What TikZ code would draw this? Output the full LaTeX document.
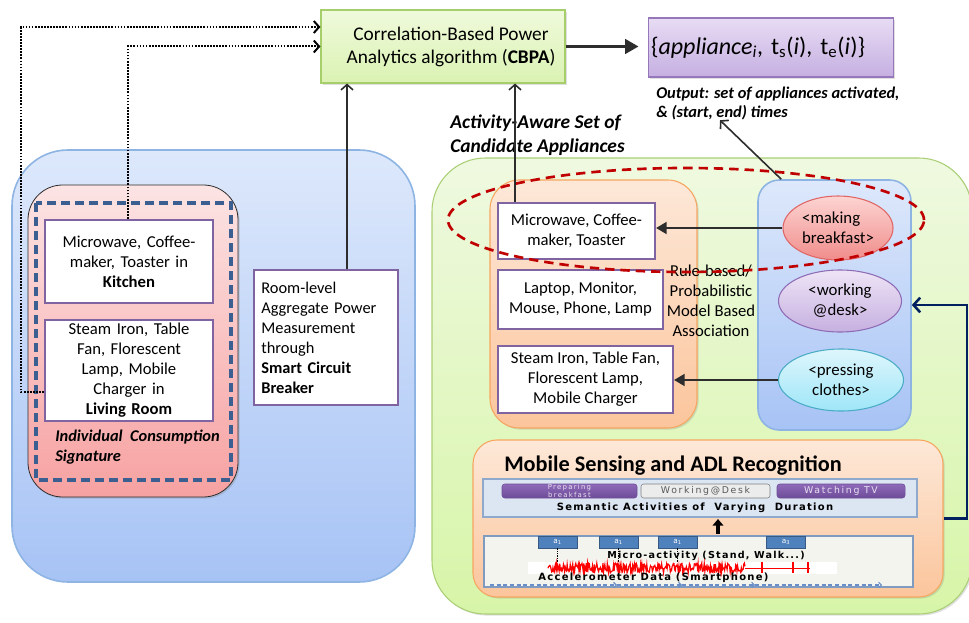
\documentclass[tikz,border=0pt]{standalone}
\usepackage{fontspec}
\setmainfont{Carlito}
\newfontfamily\tinysans[LetterSpace=13]{DejaVu Sans}
\newfontfamily\pillsans[LetterSpace=18]{DejaVu Sans}
\usepackage{tikz}
\usetikzlibrary{arrows.meta,shapes,shapes.geometric,positioning,shadows,calc}
\usepackage{xcolor}
\definecolor{darkline}{RGB}{45,45,45}
\definecolor{lbluetop}{RGB}{221,232,251}
\definecolor{lbluebot}{RGB}{167,195,245}
\definecolor{lblueline}{RGB}{142,180,227}
\definecolor{greentop}{RGB}{239,249,224}
\definecolor{greenbot}{RGB}{215,245,168}
\definecolor{greenline}{RGB}{170,207,118}
\definecolor{orangetop}{RGB}{253,232,216}
\definecolor{orangebot}{RGB}{251,197,156}
\definecolor{orangeline}{RGB}{246,166,96}
\definecolor{pinktop}{RGB}{252,228,228}
\definecolor{pinkbot}{RGB}{247,161,161}
\definecolor{dashblue}{RGB}{59,95,145}
\definecolor{apline}{RGB}{128,100,162}
\definecolor{cbpatop}{RGB}{240,250,220}
\definecolor{cbpabot}{RGB}{218,242,178}
\definecolor{cbpaline}{RGB}{166,206,107}
\definecolor{outtop}{RGB}{232,220,244}
\definecolor{outbot}{RGB}{197,175,225}
\definecolor{outline}{RGB}{150,119,188}
\definecolor{redtop}{RGB}{252,212,210}
\definecolor{redbot}{RGB}{240,141,139}
\definecolor{redline}{RGB}{224,102,102}
\definecolor{purptop}{RGB}{238,228,246}
\definecolor{purpbot}{RGB}{198,176,224}
\definecolor{purpline}{RGB}{142,108,181}
\definecolor{cyantop}{RGB}{222,246,252}
\definecolor{cyanbot}{RGB}{159,230,248}
\definecolor{cyanline}{RGB}{75,172,198}
\definecolor{ringred}{RGB}{192,0,0}
\definecolor{navy}{RGB}{0,32,96}
\definecolor{sempanel}{RGB}{220,230,242}
\definecolor{semline}{RGB}{142,169,204}
\definecolor{pilltop}{RGB}{142,106,184}
\definecolor{pillbot}{RGB}{110,76,152}
\definecolor{pilltext}{RGB}{232,224,242}
\definecolor{accpanel}{RGB}{244,244,239}
\definecolor{accline}{RGB}{127,156,192}
\definecolor{aboxfill}{RGB}{79,129,189}
\definecolor{timeline}{RGB}{106,143,200}
\tikzstyle{arrow} = [line width=1.2pt,-{Straight Barb[length=4pt,width=9pt]},color=darkline]
\tikzstyle{fillarrow} = [line width=1.5pt,-{Triangle[length=8pt,width=9pt]},color=darkline]
\tikzstyle{bigarrow} = [line width=1.7pt,-{Triangle[length=10pt,width=11pt]},color=darkline]
\tikzstyle{dotarrow} = [line width=1.5pt,dash pattern=on 1.3pt off 1pt,-{Straight Barb[length=4pt,width=9pt]},color=black]
\tikzstyle{navyarrow} = [line width=1.9pt,-{Straight Barb[length=5pt,width=11pt]},color=navy]
\tikzstyle{apbox} = [rectangle, draw=apline, line width=1.6pt, fill=white, align=center, inner sep=0pt, font=\fontsize{12.5}{15}\selectfont]
\tikzstyle{actoval} = [ellipse, inner sep=0pt, line width=0.8pt, align=center, font=\fontsize{12.6}{15}\selectfont]
\tikzstyle{boldital} = [align=left, inner sep=0pt, font=\bfseries\itshape\fontsize{12.3}{15}\selectfont]
\tikzstyle{pill} = [rectangle, rounded corners=2pt, inner sep=0pt, minimum height=10.5pt, align=center]
\tikzstyle{abox} = [rectangle, fill=aboxfill, draw=aboxfill!70!black, line width=0.4pt, minimum width=29pt, minimum height=9pt, inner sep=0pt, text=white, font=\tinysans\fontsize{5.5}{5.5}\selectfont]
\tikzstyle{tinytext} = [inner sep=0pt, font=\tinysans\bfseries\fontsize{7.5}{7.5}\selectfont]

\begin{document}
\begin{tikzpicture}[x=0.75pt,y=-0.75pt]
\useasboundingbox (0,0) rectangle (969,623);
% Left panel
\draw[draw=lblueline, line width=1.2pt, top color=lbluetop, bottom color=lbluebot, rounded corners=42pt] (12,150) rectangle (415,582);
\draw[draw=darkline, line width=0.6pt, top color=pinktop, bottom color=pinkbot, rounded corners=26pt, drop shadow={opacity=0.3,shadow xshift=1.2pt,shadow yshift=-1.2pt}] (28,185) rectangle (238,497);
\draw[draw=dashblue, line width=2.6pt, dash pattern=on 7pt off 3.5pt] (36,203) rectangle (231,480);
\node[apbox, minimum width=126pt, minimum height=62.25pt, text width=124pt] (kitchen) at (129,261.5) {Microwave, Coffee-\\maker, Toaster in\\\textbf{Kitchen}};
\node[apbox, minimum width=126pt, minimum height=75.75pt, text width=124pt] (living) at (129,370.5) {Steam Iron, Table\\Fan, Florescent\\Lamp, Mobile\\Charger in\\\textbf{Living Room}};
\node[boldital, anchor=west] (signature) at (55,447) {Individual\ \ Consumption\\Signature};
\node[apbox, minimum width=108pt, minimum height=101.25pt, text width=97pt, align=left, font=\fontsize{12.3}{15}\selectfont] (room) at (326,337.5) {Room-level\\Aggregate Power\\Measurement\\through\\\textbf{Smart Circuit}\\\textbf{Breaker}};
% CBPA and output
\node[rectangle, draw=cbpaline, line width=0.8pt, top color=cbpatop, bottom color=cbpabot, minimum width=183pt, minimum height=54.75pt, align=center, font=\fontsize{14.5}{17.25}\selectfont, drop shadow={opacity=0.25,shadow xshift=1.2pt,shadow yshift=-1.2pt}] (cbpa) at (443,46.5) {\hspace*{12pt}Correlation-Based Power\\\hspace*{12pt}Analytics algorithm (\textbf{CBPA})};
\node[rectangle, draw=outline, line width=0.8pt, top color=outtop, bottom color=outbot, minimum width=183pt, minimum height=44.25pt, text width=180pt, align=left, inner sep=2pt, font=\fontsize{18}{20}\selectfont, drop shadow={opacity=0.25,shadow xshift=1.2pt,shadow yshift=-1.2pt}] (output) at (771,47.5) {\{\textit{appliance}\textsubscript{\textit{i}}, t\textsubscript{s}(\textit{i}), t\textsubscript{e}(\textit{i})\}};
\node[boldital, anchor=west, font=\bfseries\itshape\fontsize{12.3}{14.25}\selectfont] (outlbl) at (656,103.5) {Output: set of appliances activated,\\\& (start, end) times};
\node[boldital, anchor=west, font=\bfseries\itshape\fontsize{14.6}{18}\selectfont] (aware) at (450,135) {Activity-Aware Set of\\Candidate Appliances};
% Right panel
\draw[draw=greenline, line width=0.8pt, top color=greentop, bottom color=greenbot, rounded corners=40pt, drop shadow={opacity=0.25,shadow xshift=1.2pt,shadow yshift=-1.2pt}] (432,158) rectangle (972,614);
\draw[draw=orangeline, line width=0.8pt, top color=orangetop, bottom color=orangebot, rounded corners=22pt, drop shadow={opacity=0.25,shadow xshift=1.2pt,shadow yshift=-1.2pt}] (490,180) rectangle (697,428);
\node[rectangle, draw=lblueline, line width=1.2pt, top color=lbluetop, bottom color=lbluebot, rounded corners=16pt, minimum width=114.75pt, minimum height=187.5pt] (actbox) at (834.5,305) {};
\node[apbox, minimum width=117.75pt, minimum height=42pt] (mwave) at (576.5,231) {Microwave, Coffee-\\maker, Toaster};
\node[apbox, minimum width=123.75pt, minimum height=44.25pt] (laptop) at (580.5,299.5) {Laptop, Monitor,\\Mouse, Phone, Lamp};
\node[apbox, minimum width=131.25pt, minimum height=50.25pt] (iron) at (585.5,379.5) {Steam Iron, Table Fan,\\Florescent Lamp,\\Mobile Charger};
\node[align=center, inner sep=0pt, font=\fontsize{12.5}{15}\selectfont] (rule) at (711,300.5) {Rule-based/\\Probabilistic\\Model Based\\Association};
\node[actoval, draw=redline, top color=redtop, bottom color=redbot, minimum width=82.5pt, minimum height=48pt, align=left] (making) at (838,228) {{<}making\\breakfast{>}};
\node[actoval, draw=purpline, top color=purptop, bottom color=purpbot, minimum width=92.25pt, minimum height=46.5pt] (working) at (840,301) {{<}working\\@desk{>}};
\node[actoval, draw=cyanline, top color=cyantop, bottom color=cyanbot, minimum width=93.75pt, minimum height=46.5pt] (pressing) at (841,380) {{<}pressing\\clothes{>}};
% Mobile sensing
\node[rectangle, draw=orangeline, line width=0.8pt, top color=orangetop, bottom color=orangebot, rounded corners=18pt, minimum width=352.5pt, minimum height=117.75pt, drop shadow={opacity=0.25,shadow xshift=1.2pt,shadow yshift=-1.2pt}] (mobile) at (708,518.5) {};
\node[anchor=west, inner sep=0pt, font=\bfseries\fontsize{16.7}{18}\selectfont] (mtitle) at (504,466) {Mobile Sensing and ADL Recognition};
\draw[fill=sempanel, draw=semline, line width=0.8pt] (483,479) rectangle (917,517);
\node[pill, top color=pilltop, bottom color=pillbot, draw=pillbot, minimum width=101.25pt, text=pilltext, font=\pillsans\fontsize{5.2}{4.6}\selectfont] (prep) at (569.5,491) {Preparing\\breakfast};
\node[pill, fill=gray!15, draw=gray, minimum width=96.75pt, text=gray!70!black, font=\pillsans\fontsize{7}{7}\selectfont] (desk) at (705.5,491) {Working@Desk};
\node[pill, top color=pilltop, bottom color=pillbot, draw=pillbot, minimum width=96pt, text=pilltext, font=\pillsans\fontsize{7}{7}\selectfont] (tv) at (841,491) {Watching TV};
\node[tinytext] (semantic) at (695,507.5) {Semantic Activities of\ \ Varying\ \ Duration};
\draw[line width=2.4pt, -{Triangle[length=5pt,width=8pt]}] (718,534) -- (718,519);
\draw[fill=accpanel, draw=accline, line width=0.8pt] (484,536) rectangle (913,587);
\node[abox] (ma) at (557.5,542) {a\textsubscript{1}};
\node[abox] (mb) at (618.5,542) {a\textsubscript{1}};
\node[abox] (mc) at (677.5,542) {a\textsubscript{1}};
\node[abox] (md) at (786,542) {a\textsubscript{3}};
\foreach \m in {ma,mb,mc}
  \draw[line width=1.1pt, dash pattern=on 1pt off 0.8pt] (\m.south) -- ++(0,18);
\node[tinytext, anchor=west, font=\tinysans\bfseries\fontsize{7.2}{7.2}\selectfont] (micro) at (607,556) {Micro-activity (Stand, Walk...)};
\fill[white] (528,562) rectangle (837,574);
\pgfmathsetseed{11}
\draw[red, line width=0.9pt] plot[domain=548:745, samples=320] (\x,{568+5*rand});
\draw[red, line width=0.6pt] (745,568) -- (810,568);
\foreach \sx in {762,793,808}
  \draw[red, line width=0.8pt] (\sx,562) -- (\sx,573);
\node[tinytext, anchor=west] (accel) at (538,577.5) {Accelerometer Data (Smartphone)};
\foreach \xa/\xb in {490/617,617/682,682/755,755/882}
  \draw[timeline, line width=0.8pt, dash pattern=on 3pt off 2pt, -{Straight Barb[length=2pt,width=4pt]}] (\xa,585) -- (\xb,585);
% Red ring round the breakfast activity
\draw[ringred, line width=2pt, dash pattern=on 7pt off 4.5pt] (686,220) ellipse [x radius=178.5pt, y radius=39pt];
% Connectors
\coordinate (roomtop) at ($(room.north)+(21,0)$);
\draw[dotarrow] (living.west |- 0,392) -| (21,27) -- (cbpa.west |- 0,27);
\draw[dotarrow] (kitchen.north -| 128,0) |- (cbpa.west);
\draw[arrow] (roomtop) -- (roomtop |- cbpa.south);
\draw[arrow] (mwave.north -| 515,0) -- (cbpa.south -| 515,0);
\draw[bigarrow, shorten >=7pt] (cbpa.east) -- (output.west |- cbpa.east);
\draw[arrow] ($(actbox.north west)+(24,0)$) -- (outlbl.south -| 720,0);
\draw[fillarrow] (making.west) -- (making.west -| mwave.east);
\draw[fillarrow] (pressing.west) -- (pressing.west -| iron.east);
\draw[navyarrow] (mobile.east) -| (967,305) -- (actbox.east);
\end{tikzpicture}
\end{document}
